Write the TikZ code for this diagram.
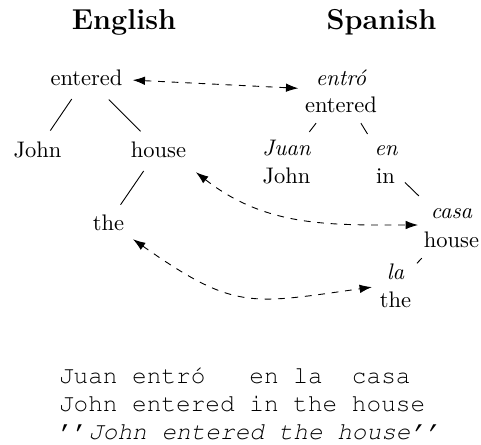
\documentclass[tikz,border=0pt]{standalone}
\usepackage[T1,TU]{fontenc}
\usepackage{fontspec}
\usetikzlibrary{arrows.meta,calc,fit}
\begin{document}
\begin{tikzpicture}[x=0.4444pt,y=0.4444pt,
  word/.style={inner sep=0pt,outer sep=0pt,anchor=base,font=\fontsize{10}{12}\selectfont},
  gloss/.style={word,font=\fontsize{10}{12}\selectfont\itshape},
  title/.style={inner sep=0pt,outer sep=0pt,anchor=base,font=\fontsize{12.8}{15}\selectfont\bfseries},
  pair/.style={inner sep=0pt,outer sep=0pt},
  branch/.style={line width=0.4pt},
  alignarrow/.style={dashed,line width=0.4pt,{Latex[length=5.5pt,width=3.8pt]}-{Latex[length=5.5pt,width=3.8pt]}},
  glossline/.style={inner sep=0pt,outer sep=0pt,anchor=base west,align=left,
    font=\fontencoding{T1}\fontfamily{pcr}\fontsize{10.85}{12.44}\selectfont},
]
\useasboundingbox (0,0) rectangle (481,-445);
% titles
\node[title] (t-en) at (124,-29) {English};
\node[title] (t-es) at (381.5,-29) {Spanish};
% English tree
\node[word] (E-entered) at (86.5,-85) {entered};
\node[word] (E-John) at (37.5,-157) {John};
\node[word] (E-house) at (158.5,-157) {house};
\node[word] (E-the) at (108.5,-230) {the};
% Spanish tree
\node[gloss] (S-entro) at (341,-85) {entró};
\node[word] (S-entered) at (341,-112) {entered};
\node[gloss] (S-Juan) at (286.5,-155) {Juan};
\node[word] (S-John) at (286.5,-183) {John};
\node[gloss] (S-en) at (386,-155) {en};
\node[word] (S-in) at (385.5,-183) {in};
\node[gloss] (S-casa) at (451.5,-218) {casa};
\node[word] (S-house) at (451.5,-247) {house};
\node[gloss] (S-la) at (395.5,-279) {la};
\node[word] (S-the) at (395.5,-307) {the};
\node[pair,fit=(S-entro)(S-entered)] (S1) {};
\node[pair,fit=(S-Juan)(S-John)] (S2) {};
\node[pair,fit=(S-en)(S-in)] (S3) {};
\node[pair,fit=(S-casa)(S-house)] (S4) {};
\node[pair,fit=(S-la)(S-the)] (S5) {};
% branches
\draw[branch,shorten <=7.4pt,shorten >=5.8pt] (E-entered) -- (E-John);
\draw[branch,shorten <=9pt,shorten >=6.3pt] (E-entered) -- (E-house);
\draw[branch,shorten <=7.4pt,shorten >=5.2pt] (E-house) -- (E-the);
\draw[branch,shorten <=6.1pt,shorten >=4.3pt] (S1) -- (S2);
\draw[branch,shorten <=5.7pt,shorten >=5.9pt] (S1) -- (S3);
\draw[branch,shorten <=4.6pt,shorten >=7.7pt] (S3) -- (S4);
\draw[branch,shorten <=6.8pt,shorten >=3.7pt] (S4) -- (S5);
% alignment arrows
\draw[alignarrow] ($(E-entered.east)+(10.2,-2.8)$) -- ($(S1.west)+(-6.7,2.5)$);
\draw[alignarrow] ($(E-house.south east)+(9.9,-15)$) to[out=-38,in=180] ($(S4.west)+(-5.9,2.65)$);
\draw[alignarrow] ($(E-the.south east)+(8.9,-9)$) to[out=-35,in=188,looseness=1.3] ($(S5.west)+(-7.9,-1.8)$);
% gloss text
\node[glossline] (glosstext) at (59,-439)
  {Juan entró\ \ \ en la\ \ casa\\John entered in the house\\{'}{'}\textit{John entered the house{'}{'}}};
\end{tikzpicture}
\end{document}
